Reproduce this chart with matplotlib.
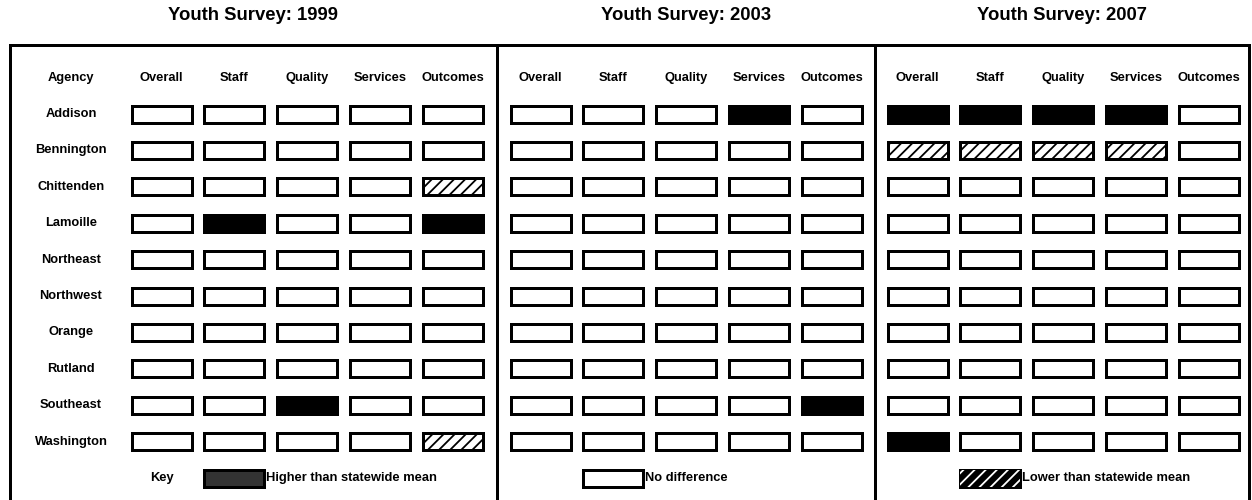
import matplotlib
matplotlib.use("Agg")
import matplotlib.pyplot as plt
from matplotlib.patches import Rectangle

# ---------------- data ----------------
years = ["1999", "2003", "2007"]
measures = ["Overall", "Staff", "Quality", "Services", "Outcomes"]
agencies = ["Addison", "Bennington", "Chittenden", "Lamoille", "Northeast",
            "Northwest", "Orange", "Rutland", "Southeast", "Washington"]
# 1 = higher than statewide mean, 0 = no difference, -1 = lower
status_1999 = [
    [0, 0, 0, 0, 0],
    [0, 0, 0, 0, 0],
    [0, 0, 0, 0, -1],
    [0, 1, 0, 0, 1],
    [0, 0, 0, 0, 0],
    [0, 0, 0, 0, 0],
    [0, 0, 0, 0, 0],
    [0, 0, 0, 0, 0],
    [0, 0, 1, 0, 0],
    [0, 0, 0, 0, -1],
]
status_2003 = [
    [0, 0, 0, 1, 0],
    [0, 0, 0, 0, 0],
    [0, 0, 0, 0, 0],
    [0, 0, 0, 0, 0],
    [0, 0, 0, 0, 0],
    [0, 0, 0, 0, 0],
    [0, 0, 0, 0, 0],
    [0, 0, 0, 0, 0],
    [0, 0, 0, 0, 1],
    [0, 0, 0, 0, 0],
]
status_2007 = [
    [1, 1, 1, 1, 0],
    [-1, -1, -1, -1, 0],
    [0, 0, 0, 0, 0],
    [0, 0, 0, 0, 0],
    [0, 0, 0, 0, 0],
    [0, 0, 0, 0, 0],
    [0, 0, 0, 0, 0],
    [0, 0, 0, 0, 0],
    [0, 0, 0, 0, 0],
    [1, 0, 0, 0, 0],
]
statuses = [status_1999, status_2003, status_2007]
key_codes = [1, 0, -1]
key_labels = ["Higher than statewide mean", "No difference", "Lower than statewide mean"]

# ---------------- layout ----------------
W, H = 1252, 500
plt.rcParams["font.family"] = ["Liberation Sans", "DejaVu Sans"]
plt.rcParams["font.weight"] = "bold"
plt.rcParams["hatch.linewidth"] = 1.3

fig = plt.figure(figsize=(W / 100, H / 100), dpi=100)

panel_px = [(10, 497), (497, 875), (875, 1249)]
first_col_px = [161.5, 540.5, 917.5]
col_step = 72.8
top_px, bottom_px = 45, 500
first_row_px, row_step = 114, 36.4
box_w = 60 / col_step
box_h = 17 / row_step
lw_px = 3
lw = lw_px * 72 / 100
label_px = 71
fs = 9.3
title_fs = 13.3

def style(code):
    if code == 1:
        return dict(facecolor="black", edgecolor="black", hatch=None)
    if code == -1:
        return dict(facecolor="white", edgecolor="black", hatch="///")
    return dict(facecolor="white", edgecolor="black", hatch=None)

for p, (year, status) in enumerate(zip(years, statuses)):
    x0, x1 = panel_px[p]
    ax = fig.add_axes([x0 / W, 0, (x1 - x0) / W, (H - top_px) / H])
    c0 = first_col_px[p]
    ax.set_xlim((x0 - c0) / col_step, (x1 - c0) / col_step)
    ax.set_ylim((bottom_px - first_row_px) / row_step, (top_px - first_row_px) / row_step)
    ax.set_xticks([])
    ax.set_yticks([])
    for s in ["top", "left", "right"]:
        ax.spines[s].set_linewidth(lw)
        ax.spines[s].set_zorder(10)
    ax.spines["bottom"].set_visible(False)

    # title
    ax.text(0.5, 1 + (top_px - 16) / (H - top_px), f"Youth Survey: {year}",
            transform=ax.transAxes, ha="center", va="center",
            fontsize=title_fs, fontweight="bold")

    # headers
    if p == 0:
        lx = (label_px - c0) / col_step
        ax.text(lx, -1, "Agency", ha="center", va="center", fontsize=fs)
        for r, name in enumerate(agencies):
            ax.text(lx, r, name, ha="center", va="center", fontsize=fs)
    for c, m in enumerate(measures):
        ax.text(c, -1, m, ha="center", va="center", fontsize=fs)

    # cells
    for r, row in enumerate(status):
        for c, code in enumerate(row):
            st = style(code)
            ax.add_patch(Rectangle((c - box_w / 2, r - box_h / 2), box_w, box_h,
                                   facecolor=st["facecolor"], edgecolor=st["edgecolor"],
                                   hatch=st["hatch"], linewidth=lw))

    # key
    krow = len(agencies)
    code = key_codes[p]
    if p == 0:
        ax.text(0, krow, "Key", ha="center", va="center", fontsize=fs)
    kx = 1
    if code == 1:
        ax.add_patch(Rectangle((kx - box_w / 2, krow - box_h / 2), box_w, box_h,
                               facecolor="#333333", edgecolor="black", linewidth=lw))
    elif code == 0:
        ax.add_patch(Rectangle((kx - box_w / 2, krow - box_h / 2), box_w, box_h,
                               facecolor="white", edgecolor="black", linewidth=lw))
    else:
        ax.add_patch(Rectangle((kx - box_w / 2, krow - box_h / 2), box_w, box_h,
                               facecolor="black", edgecolor="black", linewidth=lw))
        ax.add_patch(Rectangle((kx - box_w / 2, krow - box_h / 2), box_w, box_h,
                               facecolor="none", edgecolor="white", linewidth=0,
                               hatch="///"))
    ax.text(kx + box_w / 2 + 2 / col_step, krow, key_labels[p],
            ha="left", va="center", fontsize=fs)

fig.savefig("out.png", dpi=100, facecolor="white")
